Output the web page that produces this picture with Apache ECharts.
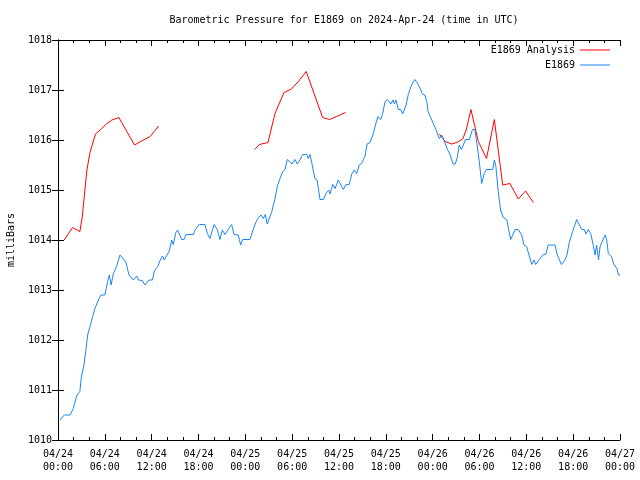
<!DOCTYPE html>
<html>
<head>
<meta charset="utf-8">
<script src="https://cdn.jsdelivr.net/npm/echarts@6/dist/echarts.min.js"></script>
<style>html,body{margin:0;padding:0;background:#fff}#c{width:640px;height:480px}</style>
</head>
<body>
<div id="c"></div>
<script>
var titleText = 'Barometric Pressure for E1869 on 2024-Apr-24 (time in UTC)';
var tickLabels = ['04/24\n00:00','04/24\n06:00','04/24\n12:00','04/24\n18:00','04/25\n00:00','04/25\n06:00','04/25\n12:00','04/25\n18:00','04/26\n00:00','04/26\n06:00','04/26\n12:00','04/26\n18:00','04/27\n00:00'];

// hours since 2024-04-24 00:00 UTC
var analysisHours = [0.8,1.85,2.8,3.1,3.7,4.1,4.8,5.4,6.2,6.9,7.8,9.8,10.7,11.8,12.9, 19,
  25.2,25.8,26.9,27.8,28.95,29.9,30.8,31.8,33.9,34.8,35.7,36.85, 43,
  48.85,49.6,50.4,51.1,51.85,52.3,52.9,53.85,54.9,55.9,56.97,57.9,58.97,59.9,60.9];
var analysisValues = [1014.0,1014.25,1014.17,1014.45,1015.4,1015.75,1016.12,1016.2,1016.32,1016.4,1016.45,1015.9,1015.98,1016.07,1016.28, null,
  1015.81,1015.91,1015.95,1016.53,1016.95,1017.02,1017.17,1017.37,1016.45,1016.41,1016.47,1016.55, null,
  1016.12,1015.97,1015.92,1015.95,1016.02,1016.2,1016.61,1015.97,1015.63,1016.41,1015.1,1015.13,1014.82,1014.98,1014.75];

var obsHours = [0.26,0.8,1.54,1.96,2.4,2.8,3.0,3.3,3.55,3.8,4.1,4.44,4.74,5.17,5.5,6.0,6.36,6.57,6.8,7.1,7.5,7.94,8.15,8.67,9.1,9.65,10.1,10.3,10.8,11.15,11.66,12.1,12.35,12.77,13.1,13.4,13.6,14.26,14.56,14.77,15.1,15.33,15.85,16.14,16.4,17.33,17.6,18.1,18.83,19.13,19.47,19.8,20.0,20.4,20.75,21.05,21.4,21.8,22.25,22.55,23.1,23.4,23.66,24.6,25.0,25.5,26.0,26.3,26.56,26.8,27.4,27.8,28.1,28.44,28.8,29.08,29.38,29.63,29.98,30.36,30.66,31.0,31.35,31.86,32.07,32.28,32.6,32.9,33.2,33.56,34.0,34.4,34.7,34.85,35.2,35.5,35.9,36.1,36.55,36.9,37.3,37.66,37.96,38.27,38.6,38.9,39.33,39.6,39.97,40.4,40.7,41.0,41.34,41.6,41.9,42.2,42.45,42.66,42.9,43.1,43.3,43.6,43.9,44.16,44.37,44.6,44.9,45.3,45.7,46.0,46.4,46.7,47.0,47.3,47.4,47.7,48.08,48.4,48.85,49.15,49.45,49.9,50.2,50.4,50.6,50.9,51.15,51.4,51.7,51.9,52.2,52.7,53.1,53.4,53.6,53.97,54.28,54.6,54.9,55.7,55.9,56.1,56.4,56.7,57.05,57.5,57.7,58.0,58.2,58.55,58.97,59.4,59.7,60.04,60.34,60.7,61.0,61.2,61.66,62.1,62.5,62.8,63.67,63.97,64.5,64.95,65.2,65.5,65.93,66.45,66.8,67.1,67.4,67.64,67.94,68.25,68.6,68.8,69.0,69.25,69.45,69.8,70.1,70.3,70.5,70.9,71.2,71.6,71.8,72.0];
var obsValues = [1010.4,1010.5,1010.5,1010.63,1010.89,1010.97,1011.27,1011.47,1011.77,1012.1,1012.27,1012.47,1012.63,1012.8,1012.9,1012.9,1013.17,1013.3,1013.1,1013.33,1013.47,1013.7,1013.7,1013.57,1013.3,1013.2,1013.28,1013.2,1013.19,1013.1,1013.2,1013.2,1013.39,1013.47,1013.6,1013.68,1013.6,1013.78,1014.0,1013.91,1014.15,1014.2,1014.01,1014.01,1014.11,1014.11,1014.21,1014.31,1014.31,1014.13,1014.03,1014.21,1014.31,1014.21,1014.01,1014.2,1014.11,1014.21,1014.31,1014.11,1014.1,1013.9,1014.01,1014.01,1014.21,1014.41,1014.5,1014.43,1014.51,1014.32,1014.57,1014.83,1015.07,1015.23,1015.37,1015.41,1015.61,1015.61,1015.52,1015.61,1015.52,1015.61,1015.71,1015.71,1015.63,1015.71,1015.48,1015.23,1015.2,1014.81,1014.81,1014.95,1015.0,1014.92,1015.11,1015.03,1015.2,1015.2,1015.01,1015.11,1015.11,1015.33,1015.4,1015.33,1015.5,1015.53,1015.68,1015.92,1015.95,1016.13,1016.32,1016.47,1016.41,1016.53,1016.77,1016.81,1016.81,1016.72,1016.8,1016.72,1016.8,1016.61,1016.61,1016.52,1016.52,1016.7,1016.93,1017.1,1017.21,1017.15,1017.03,1016.92,1016.9,1016.73,1016.57,1016.47,1016.33,1016.21,1016.03,1016.1,1015.99,1015.81,1015.72,1015.68,1015.52,1015.52,1015.65,1015.9,1015.81,1015.81,1016.01,1016.01,1016.21,1016.21,1016.01,1015.57,1015.13,1015.33,1015.41,1015.41,1015.6,1015.47,1014.97,1014.6,1014.45,1014.41,1014.23,1014.01,1014.01,1014.21,1014.21,1014.1,1013.9,1013.87,1013.7,1013.51,1013.6,1013.51,1013.61,1013.7,1013.72,1013.9,1013.9,1013.7,1013.51,1013.6,1013.7,1013.95,1014.17,1014.41,1014.3,1014.21,1014.21,1014.12,1014.21,1014.13,1013.87,1013.7,1013.9,1013.6,1013.87,1014.0,1014.1,1014.0,1013.73,1013.67,1013.52,1013.43,1013.3,1013.3];

function pairs(xs, ys) { return xs.map(function (x, i) { return [x, ys[i] === null ? '-' : ys[i]]; }); }

var FONT = 'DejaVu Sans Mono';
var chart = echarts.init(document.getElementById('c'), null, {renderer: 'canvas'});
var axisLine = {show: true, lineStyle: {color: '#000', width: 1}};
function xAx(pos, showLabel) {
  return {
    type: 'value', min: 0, max: 72, interval: 6, position: pos,
    axisLine: axisLine,
    axisTick: {show: true, inside: true, length: 6, lineStyle: {color: '#000'}},
    minorTick: {show: true, splitNumber: 3, length: 3, lineStyle: {color: '#000'}},
    splitLine: {show: false},
    axisLabel: {show: showLabel, fontFamily: FONT, fontSize: 10, color: '#000', lineHeight: 13, margin: 8,
      formatter: function (v) { return tickLabels[Math.round(v / 6)]; }}
  };
}
function yAx(pos, showLabel) {
  return {
    type: 'value', min: 1010, max: 1018, interval: 1, position: pos,
    name: showLabel ? 'milliBars' : '', nameLocation: 'middle', nameGap: 42, nameRotate: 90,
    nameTextStyle: {fontFamily: FONT, fontSize: 10, color: '#000'},
    axisLine: axisLine,
    axisTick: {show: true, inside: true, length: 6, lineStyle: {color: '#000'}},
    splitLine: {show: false},
    axisLabel: {show: showLabel, fontFamily: FONT, fontSize: 10, color: '#000', margin: 6,
      formatter: function (v) { return String(v); }}
  };
}
chart.setOption({
  animation: false,
  backgroundColor: '#fff',
  title: {text: titleText, left: 339, top: 10, textAlign: 'center',
    textStyle: {fontFamily: FONT, fontSize: 10, fontWeight: 'normal', color: '#000'}},
  legend: {
    orient: 'vertical', right: 30, top: 45, align: 'right', itemGap: 5, padding: 0,
    icon: 'rect', itemWidth: 30, itemHeight: 1,
    textStyle: {fontFamily: FONT, fontSize: 10, color: '#000'},
    data: ['E1869 Analysis', 'E1869']
  },
  grid: {left: 58, right: 20, top: 40, bottom: 40, containLabel: false, outerBoundsMode: 'none'},
  xAxis: [xAx('bottom', true), xAx('top', false)],
  yAxis: [yAx('left', true), yAx('right', false)],
  series: [
    {name: 'E1869 Analysis', type: 'line', xAxisIndex: 0, yAxisIndex: 0, showSymbol: false, symbol: 'none',
      connectNulls: false, color: '#ff0000', lineStyle: {color: '#ff0000', width: 1}, data: pairs(analysisHours, analysisValues)},
    {name: 'E1869', type: 'line', xAxisIndex: 0, yAxisIndex: 0, showSymbol: false, symbol: 'none',
      color: '#1a86f5', lineStyle: {color: '#1a86f5', width: 1}, data: pairs(obsHours, obsValues)}
  ]
});
</script>
</body>
</html>
